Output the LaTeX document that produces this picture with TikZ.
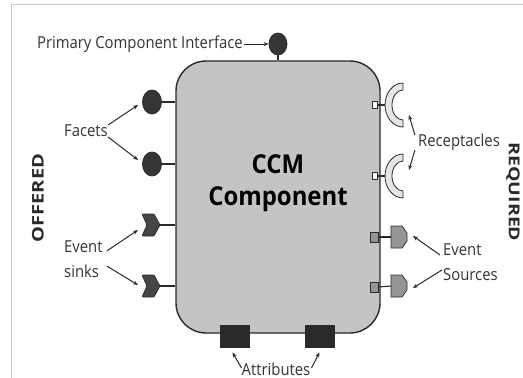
\documentclass[tikz,border=0pt]{standalone}
\usepackage{fontspec}
\setmainfont{Open Sans}
\newfontfamily\lbl{Open Sans}[FakeStretch=0.9]
\newfontfamily\lblb{Open Sans Bold}[FakeStretch=0.92]
\newfontfamily\sideb{Open Sans Bold}[FakeStretch=1.25]
\newfontfamily\sidebr{Open Sans Bold}[FakeStretch=1.3]
\usetikzlibrary{shapes.geometric,arrows.meta,calc}
\definecolor{boxgray}{HTML}{C4C4C4}
\definecolor{ink}{HTML}{2A2A2A}
\definecolor{txt}{HTML}{333333}
\definecolor{facetfill}{HTML}{353535}
\definecolor{sinkfill}{HTML}{454545}
\definecolor{srcfill}{HTML}{959595}
\definecolor{recfill}{HTML}{E6E6E6}
\definecolor{framegray}{HTML}{C8C8C8}
\tikzset{
  comp/.style={draw=ink, line width=1.4pt, fill=boxgray, rounded corners=30pt, minimum width=204pt, minimum height=272pt, inner sep=0pt},
  facet/.style={ellipse, draw=ink, line width=0.8pt, fill=facetfill, minimum width=19pt, minimum height=24pt, inner sep=0pt},
  attr/.style={draw=ink, line width=0.8pt, fill=ink, minimum width=29pt, minimum height=22pt, inner sep=0pt},
  smallsq/.style={draw=ink, line width=0.8pt, fill=white, minimum width=5pt, minimum height=7pt, inner sep=0pt},
  srcsq/.style={draw=ink, line width=0.8pt, fill=srcfill, minimum width=8pt, minimum height=10pt, inner sep=0pt},
  wire/.style={draw=ink, line width=1.1pt},
  arr/.style={draw=ink, line width=1pt, -{Stealth[length=5pt,width=4pt]}},
  lab/.style={font=\lbl\fontsize{16.5}{25}\selectfont, text=txt, inner sep=1pt},
  side/.style={text=ink, inner sep=0pt},
  sinkpic/.pic={
    \filldraw[fill=sinkfill, draw=ink, line width=0.7pt, rounded corners=1pt]
      (-9,-11) -- (3,-11) -- (9,0) -- (3,11) -- (-9,11) -- (-4,0) -- cycle;
    \coordinate (-e) at (9,0);
  },
  srcpic/.pic={
    \filldraw[fill=srcfill, draw=ink, line width=0.7pt]
      (-8,-11) -- (3,-11) -- (8,-4) -- (8,4) -- (3,11) -- (-8,11) -- cycle;
    \coordinate (-w) at (-8,0);
  },
  recpic/.pic={
    \filldraw[fill=recfill, draw=ink, line width=0.8pt]
      (0,22) arc[start angle=90, end angle=270, x radius=18, y radius=22]
      -- (0,-15) arc[start angle=270, end angle=90, x radius=11, y radius=15]
      -- cycle;
    \coordinate (-w) at (-18,0);
  }
}
\begin{document}
\begin{tikzpicture}[x=1pt, y=-1pt]
\useasboundingbox (0,0) rectangle (523,378);
% frame
\draw[framegray, line width=1pt] (11.5,378) -- (11.5,4) -- (523,4);

% component
\node[comp] (comp) at (278,197) {};
\node[font=\lblb\fontsize{26}{30}\selectfont, text=black] (t1) at (278,164) {CCM};
\node[font=\lblb\fontsize{26}{30}\selectfont, text=black] (t2) at (278,199) {Component};

% primary interface
\node[facet, minimum width=18pt, minimum height=22pt] (pci) at (278,44) {};
\draw[wire] (pci.south) -- (pci.south |- comp.north);
\node[lab, anchor=east] (pcil) at (244,44) {Primary Component Interface};
\draw[arr] (pcil.east) -- (pci.west);

% facets
\node[facet] (f1) at (152,102) {};
\node[facet] (f2) at (152,164) {};
\draw[wire] (f1.east) -- (f1.east -| comp.west);
\draw[wire] (f2.east) -- (f2.east -| comp.west);
\node[lab] (facets) at (86,131) {Facets};
\draw[arr] ($(facets.east)+(-1,-6)$) -- ($(f1.west)+(-4,3)$);
\draw[arr] ($(facets.east)+(-1,6)$) -- ($(f2.west)+(-4,-4)$);

% event sinks
\pic (s1) at (151,225) {sinkpic};
\pic (s2) at (151,286) {sinkpic};
\draw[wire] (s1-e) -- (s1-e -| comp.west);
\draw[wire] (s2-e) -- (s2-e -| comp.west);
\node[lab, align=left, anchor=west] (sinks) at (63,259) {Event\\sinks};
\draw[arr] ($(sinks.east)+(3,-8)$) -- ($(s1-e)+(-22,5)$);
\draw[arr] ($(sinks.east)+(3,7)$) -- ($(s2-e)+(-22,-1)$);

% receptacles
\pic (r1) at (403,105) {recpic};
\pic (r2) at (403,176) {recpic};
\node[smallsq] (q1) at (374.5,105) {};
\node[smallsq] (q2) at (374.5,176) {};
\draw[wire] (q1.east) -- (r1-w);
\draw[wire] (q2.east) -- (r2-w);
\node[lab] (recl) at (459,142) {Receptacles};
\draw[arr] ($(recl.west)+(-2,-7)$) -- ($(r1-w)+(24,10)$);
\draw[arr] ($(recl.west)+(-2,8)$) -- ($(r2-w)+(24,-6)$);

% event sources
\pic (e1) at (399,237) {srcpic};
\pic (e2) at (399,286) {srcpic};
\node[srcsq] (p1) at (374,237) {};
\node[srcsq] (p2) at (374,287) {};
\draw[wire] (p1.east) -- (e1-w);
\draw[wire] (p2.east) -- (e2-w);
\node[lab, align=left, anchor=west] (srcl) at (442,262) {Event\\Sources};
\draw[arr] ($(srcl.west)+(-2,-7)$) -- ($(e1-w)+(22,-1)$);
\draw[arr] ($(srcl.west)+(0,8)$) -- ($(e2-w)+(22,2)$);

% attributes
\node[attr] (a1) at (234.5,336) {};
\node[attr] (a2) at (319.5,336) {};
\node[lab] (attl) at (276,369) {Attributes};
\draw[arr] ($(attl.west)+(1,-1)$) -- ($(a1.south)+(-2,5)$);
\draw[arr] ($(attl.east)+(0,-1)$) -- ($(a2.south)+(0,5)$);

% sides
\node[side, font=\sideb\fontsize{16}{18}\selectfont, rotate=90] (off) at (38,198) {OFFERED};
\node[side, font=\sidebr\fontsize{15}{17}\selectfont, rotate=-90] (req) at (513,192) {REQUIRED};
\end{tikzpicture}
\end{document}
